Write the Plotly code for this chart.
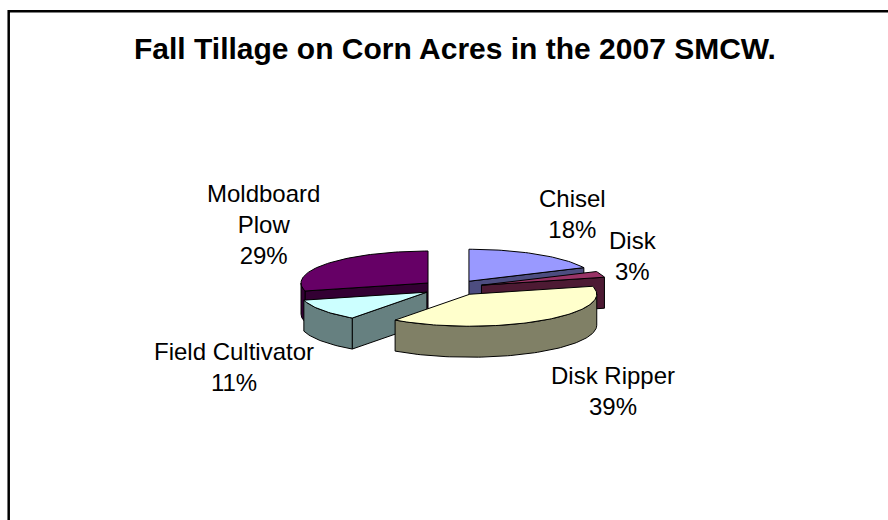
import numpy as np
import plotly.graph_objects as go

# ---- data -------------------------------------------------------------
categories = ["Chisel", "Disk", "Disk Ripper", "Field Cultivator", "Moldboard Plow"]
shares = [18, 3, 39, 11, 29]          # percent of fall-tilled corn acres
label_lines = [["Chisel"], ["Disk"], ["Disk Ripper"], ["Field Cultivator"], ["Moldboard", "Plow"]]

# ---- style ------------------------------------------------------------
top_colors = ["#9999FF", "#993366", "#FFFFCC", "#CCFFFF", "#660066"]
side_colors = ["#4D4D80", "#4D1A33", "#808066", "#668080", "#330033"]
FONT = "Liberation Sans, Arial, sans-serif"

W, H = 888, 520
# pie geometry in page pixels (oblique 3-D view of an exploded pie)
CX, CY = 452.4, 287.8     # centre of the un-exploded pie top
RX, RY = 127.0, 32.0      # ellipse radii of the top face
DEPTH = 31.0              # thickness of the pie
EXPLODE = 0.243           # pull-out distance as a fraction of the radius

# label anchors (centre of each text block)
label_pos = {
    "Chisel": (572, 214),
    "Disk": (633, 256),
    "Disk Ripper": (613, 391),
    "Field Cultivator": (234, 367),
    "Moldboard Plow": (263, 224),
}


def rim(theta, ox, oy, drop=0.0):
    t = np.radians(theta)
    return ox + RX * np.sin(t), oy - RY * np.cos(t) + drop


def arc(a, b, ox, oy, drop=0.0, n=60):
    th = np.linspace(a, b, max(2, int(n * (b - a) / 90) + 2))
    return rim(th, ox, oy, drop)


fig = go.Figure()


def face(xs, ys, color):
    xs = list(xs) + [xs[0]]
    ys = list(ys) + [ys[0]]
    fig.add_trace(go.Scatter(
        x=xs, y=ys, mode="lines", fill="toself", fillcolor=color,
        line=dict(color="black", width=1), hoverinfo="skip", showlegend=False))


# slice angles, clockwise from 12 o'clock
total = float(sum(shares))
ends = np.cumsum(shares) / total * 360.0
starts = np.concatenate([[0.0], ends[:-1]])
mids = (starts + ends) / 2.0

# paint back slices first
order = sorted(range(len(shares)), key=lambda i: -np.cos(np.radians(mids[i])))

for i in order:
    a1, a2, m = starts[i], ends[i], mids[i]
    ox = CX + EXPLODE * RX * np.sin(np.radians(m))
    oy = CY - EXPLODE * RY * np.cos(np.radians(m))
    side = side_colors[i]

    # radial faces that face the viewer
    for ang, visible in ((a1, np.sin(np.radians(a1)) < -1e-9),
                         (a2, np.sin(np.radians(a2)) > 1e-9)):
        if visible:
            rx_, ry_ = rim(ang, ox, oy)
            face([ox, rx_, rx_, ox], [oy, ry_, ry_ + DEPTH, oy + DEPTH], side)

    # curved outer wall on the front half
    lo, hi = max(a1, 90.0), min(a2, 270.0)
    if hi > lo:
        tx, ty = arc(lo, hi, ox, oy)
        bx, by = arc(lo, hi, ox, oy, DEPTH)
        face(np.concatenate([tx, bx[::-1]]), np.concatenate([ty, by[::-1]]), side)

    # top face
    tx, ty = arc(a1, a2, ox, oy)
    face(np.concatenate([[ox], tx]), np.concatenate([[oy], ty]), top_colors[i])

# data labels
annotations = []
for name, lines, val in zip(categories, label_lines, shares):
    x, y = label_pos[name]
    annotations.append(dict(
        x=x, y=y, xref="x", yref="y", xanchor="center", yanchor="middle",
        text="<br>".join(lines + [f"{val}%"]), showarrow=False, align="center",
        font=dict(family=FONT, size=24, color="black")))

# chart title
annotations.append(dict(
    x=454.5, y=48, xref="x", yref="y", xanchor="center", yanchor="middle",
    text="<b>Fall Tillage on Corn Acres in the 2007 SMCW.</b>", showarrow=False,
    font=dict(family=FONT, size=30, color="black")))

fig.update_layout(
    width=W, height=H, margin=dict(l=0, r=0, t=0, b=0),
    paper_bgcolor="white", plot_bgcolor="white",
    xaxis=dict(range=[0, W], visible=False, fixedrange=True),
    yaxis=dict(range=[H, 0], visible=False, fixedrange=True),
    annotations=annotations,
    shapes=[dict(type="path", xref="x", yref="y",
                 path=f"M 8.7,{H + 10} L 8.7,11.3 L {W + 10},11.3",
                 line=dict(color="black", width=2.5))],
)

fig.write_html("out.html")
